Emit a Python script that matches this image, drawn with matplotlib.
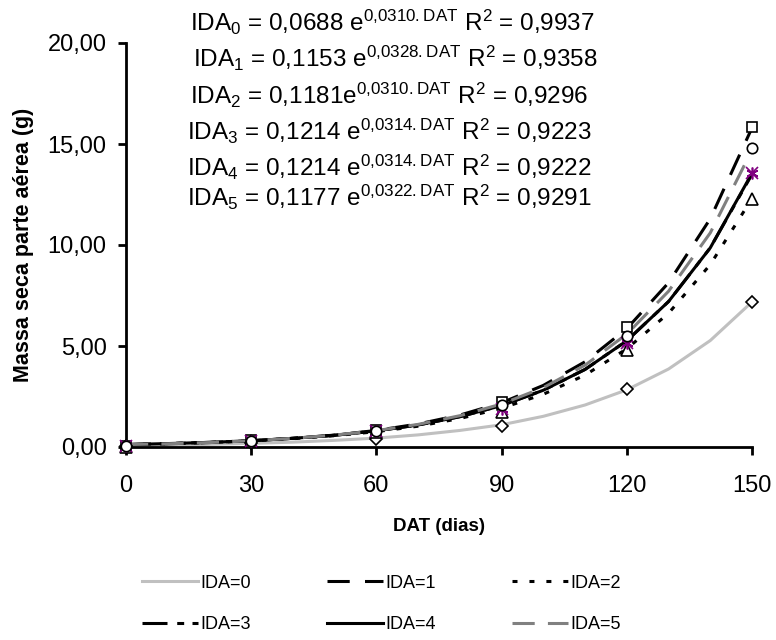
import numpy as np
import matplotlib
matplotlib.use("Agg")
import matplotlib.pyplot as plt

plt.rcParams['font.family'] = ['Liberation Sans', 'DejaVu Sans']
plt.rcParams['mathtext.fontset'] = 'custom'
plt.rcParams['mathtext.rm'] = 'Liberation Sans'
plt.rcParams['mathtext.default'] = 'regular'
plt.rcParams['lines.scale_dashes'] = False

# observed points (DAT, dias)
dat = [0, 30, 60, 90, 120, 150]
ida0_pts = [0.05, 0.20, 0.40, 1.05, 2.85, 7.20]
ida1_pts = [0.05, 0.35, 0.85, 2.25, 5.95, 15.85]
ida2_pts = [0.00, 0.30, 0.75, 1.75, 4.80, 12.30]
ida3_pts = [0.05, 0.30, 0.80, 1.90, 5.15, 13.55]
ida4_pts = [0.05, 0.30, 0.80, 1.90, 5.15, 13.55]
ida5_pts = [0.05, 0.30, 0.80, 2.10, 5.50, 14.80]

# curves, every 10 days
dat_curve = [0, 10, 20, 30, 40, 50, 60, 70, 80, 90, 100, 110, 120, 130, 140, 150]
ida0_curve = [0.07, 0.09, 0.13, 0.18, 0.24, 0.33, 0.44, 0.60, 0.82, 1.10, 1.52, 2.08, 2.83, 3.86, 5.27, 7.18]
ida1_curve = [0.12, 0.16, 0.22, 0.31, 0.43, 0.59, 0.82, 1.14, 1.58, 2.19, 3.05, 4.22, 5.86, 8.13, 11.30, 15.80]
ida2_curve = [0.12, 0.16, 0.22, 0.30, 0.41, 0.56, 0.76, 1.03, 1.41, 1.92, 2.61, 3.56, 4.86, 6.62, 9.03, 12.30]
ida3_curve = [0.12, 0.17, 0.23, 0.31, 0.43, 0.58, 0.80, 1.09, 1.50, 2.05, 2.81, 3.84, 5.26, 7.20, 9.86, 13.50]
ida4_curve = [0.12, 0.17, 0.23, 0.31, 0.43, 0.58, 0.80, 1.09, 1.50, 2.05, 2.81, 3.84, 5.26, 7.20, 9.86, 13.55]
ida5_curve = [0.12, 0.16, 0.22, 0.31, 0.43, 0.59, 0.81, 1.12, 1.55, 2.13, 2.94, 4.05, 5.59, 7.71, 10.60, 14.70]

labels = ['IDA=0', 'IDA=1', 'IDA=2', 'IDA=3', 'IDA=4', 'IDA=5']
equations = [
    r'IDA$_{0}$ = 0,0688 e$^{0{,}0310{.}DAT}$ R$^{2}$ = 0,9937',
    r'IDA$_{1}$ = 0,1153 e$^{0{,}0328{.}DAT}$ R$^{2}$ = 0,9358',
    r'IDA$_{2}$ = 0,1181e$^{0{,}0310{.}DAT}$ R$^{2}$ = 0,9296',
    r'IDA$_{3}$ = 0,1214 e$^{0{,}0314{.}DAT}$ R$^{2}$ = 0,9223',
    r'IDA$_{4}$ = 0,1214 e$^{0{,}0314{.}DAT}$ R$^{2}$ = 0,9222',
    r'IDA$_{5}$ = 0,1177 e$^{0{,}0322{.}DAT}$ R$^{2}$ = 0,9291',
]

curves = [ida0_curve, ida1_curve, ida2_curve, ida3_curve, ida4_curve, ida5_curve]
points = [ida0_pts, ida1_pts, ida2_pts, ida3_pts, ida4_pts, ida5_pts]

line_styles = [
    dict(color='#c0c0c0', ls='-'),
    dict(color='black', dashes=(16, 11)),
    dict(color='black', dashes=(3.6, 8.6)),
    dict(color='black', dashes=(18, 7, 5, 6, 5, 6)),
    dict(color='black', ls='-'),
    dict(color='#808080', dashes=(16, 9.5)),
]
marker_styles = [
    dict(marker='D', ms=6.5, mfc='white', mec='black'),
    dict(marker='s', ms=7.5, mfc='white', mec='black'),
    dict(marker='^', ms=8.5, mfc='white', mec='black'),
    dict(marker='x', ms=8.5, mec='#800080'),
    dict(marker=(6, 2, 0), ms=8.5, mec='#800080'),
    dict(marker='o', ms=7.5, mfc='white', mec='black'),
]

fig = plt.figure(figsize=(7.76, 6.4), dpi=100)
ax = fig.add_axes([126 / 776, 1 - 447 / 640, (752 - 126) / 776, (447 - 43) / 640])

handles = []
for c, st, lab in zip(curves, line_styles, labels):
    h, = ax.plot(dat_curve, c, lw=2.2, label=lab, **st)
    handles.append(h)

for p, ms in zip(points, marker_styles):
    ax.plot(dat, p, ls='none', mew=1.2, zorder=5, clip_on=False, **ms)

ax.set_xlim(0, 150)
ax.set_ylim(0, 20)
ax.set_xticks(dat)
ax.set_yticks([0, 5, 10, 15, 20])
ax.set_yticklabels(['0,00', '5,00', '10,00', '15,00', '20,00'])
ax.spines['top'].set_visible(False)
ax.spines['right'].set_visible(False)
for s in ['left', 'bottom']:
    ax.spines[s].set_linewidth(2)
ax.tick_params(width=2, length=6, labelsize=17)
ax.tick_params(axis='x', pad=14)
ax.tick_params(axis='y', pad=8)
ax.set_xlabel('DAT (dias)', fontsize=13.5, fontweight='bold', labelpad=15)
ax.set_ylabel('Massa seca parte aérea (g)', fontsize=15.5, fontweight='bold', labelpad=10)

eq_x = [190, 193, 190, 187, 187, 187]
eq_y = [22, 58, 95, 131, 167, 197]
for t, x, y in zip(equations, eq_x, eq_y):
    fig.text(x / 776, 1 - y / 640, t, fontsize=17.5, ha='left', va='center')

order = [0, 3, 1, 4, 2, 5]
fig.legend([handles[i] for i in order], [labels[i] for i in order],
           ncol=3, loc='center left', bbox_to_anchor=(142 / 776, 1 - 604 / 640),
           frameon=False, fontsize=13, handlelength=3.1, handletextpad=0.15,
           columnspacing=4.2, labelspacing=1.35, borderpad=0, borderaxespad=0)

fig.savefig('out.png', dpi=100)
